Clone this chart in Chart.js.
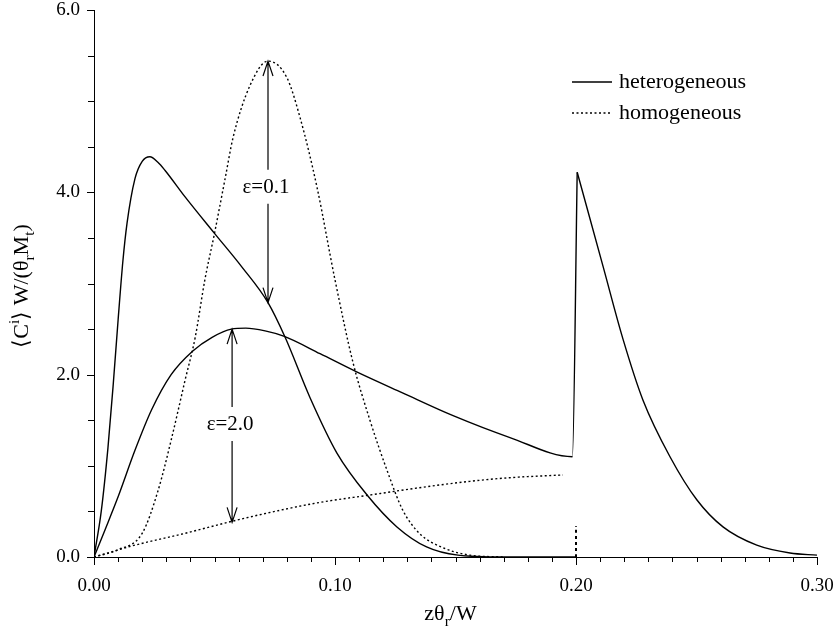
<!DOCTYPE html>
<html>
<head>
<meta charset="utf-8">
<script src="https://cdn.jsdelivr.net/npm/chart.js@4.4.0/dist/chart.umd.min.js"></script>
<style>
  body { margin: 0; background: #fff; }
  canvas { display: block; }
</style>
</head>
<body>
<canvas id="chart" width="840" height="638"></canvas>
<script>
// heterogeneous, eps = 0.1
const het1X = [0, 0.003, 0.0058, 0.008, 0.010, 0.012, 0.0137, 0.017, 0.020, 0.0232, 0.0265, 0.0295, 0.0378, 0.050, 0.0614, 0.0722, 0.0793, 0.0896, 0.1008, 0.1133, 0.1257, 0.138, 0.151, 0.17, 0.20];
const het1Y = [0, 0.5, 1.2, 1.9, 2.6, 3.25, 3.66, 4.15, 4.34, 4.39, 4.33, 4.24, 3.95, 3.55, 3.18, 2.79, 2.41, 1.75, 1.14, 0.68, 0.33, 0.11, 0.02, 0.0, 0.0];
// heterogeneous, eps = 2.0 : up to the jump at z = 0.20
const het2X = [0, 0.0046, 0.010, 0.017, 0.024, 0.032, 0.041, 0.049, 0.057, 0.063, 0.071, 0.079, 0.0938, 0.109, 0.128, 0.149, 0.1726, 0.1985, 0.2005];
const het2Y = [0, 0.30, 0.66, 1.17, 1.62, 2.00, 2.26, 2.41, 2.50, 2.51, 2.48, 2.42, 2.23, 2.03, 1.80, 1.55, 1.31, 1.10, 4.22];
// heterogeneous, eps = 2.0 : decay after the jump
const het2bX = [0.2005, 0.2112, 0.2195, 0.2278, 0.239, 0.2502, 0.261, 0.275, 0.2888, 0.300];
const het2bY = [4.22, 3.19, 2.39, 1.72, 1.10, 0.625, 0.33, 0.13, 0.044, 0.02];
// homogeneous, eps = 0.1
const hom1X = [0, 0.010, 0.020, 0.0266, 0.032, 0.0378, 0.042, 0.046, 0.050, 0.0544, 0.0577, 0.0647, 0.0722, 0.080, 0.0855, 0.0925, 0.100, 0.1075, 0.1145, 0.1216, 0.128, 0.135, 0.145, 0.156, 0.17];
const hom1Y = [0, 0.08, 0.26, 0.73, 1.28, 1.94, 2.41, 3.04, 3.55, 4.15, 4.6, 5.17, 5.44, 5.26, 4.82, 4.06, 3.04, 2.13, 1.50, 0.95, 0.52, 0.26, 0.10, 0.02, 0];
// homogeneous, eps = 2.0
const hom2X = [0, 0.017, 0.0378, 0.057, 0.075, 0.094, 0.1145, 0.135, 0.156, 0.1726, 0.1946];
const hom2Y = [0, 0.13, 0.26, 0.39, 0.50, 0.60, 0.68, 0.76, 0.83, 0.87, 0.90];
// dotted marker at z = 0.20
const markX = [0.20, 0.20];
const markY = [0, 0.34];

const xTicks = ['0.00', '0.10', '0.20', '0.30'];
const yTicks = ['0.0', '2.0', '4.0', '6.0'];

const arrowX = [0.0722, 0.0573];
const arrowTop = [5.44, 2.50];
const arrowBottom = [2.79, 0.38];
const arrowLabelY = [4.06, 1.46];
const arrowLabels = ['\u03b5=0.1', '\u03b5=2.0'];

const legendLabels = ['heterogeneous', 'homogeneous'];

const FONT = '"Liberation Serif", "Times New Roman", serif';

function pts(xs, ys) { return xs.map((x, i) => ({ x: x, y: ys[i] })); }
function isMult(v, step) { const r = v / step; return Math.abs(r - Math.round(r)) < 1e-6; }

function lineDs(xs, ys, dash) {
    return {
        data: pts(xs, ys), borderColor: '#000', borderWidth: 1.4, borderDash: dash,
        pointRadius: 0, fill: false, cubicInterpolationMode: 'monotone'
    };
}

function drawRich(ctx, parts, x, y, size) {
    const w = parts.map(p => {
        ctx.font = (p[1] ? size * 0.7 : size) + 'px ' + FONT;
        return ctx.measureText(p[0]).width;
    });
    let cx = x - w.reduce((a, b) => a + b, 0) / 2;
    parts.forEach((p, i) => {
        ctx.font = (p[1] ? size * 0.7 : size) + 'px ' + FONT;
        const dy = p[1] === 'sup' ? -size * 0.42 : p[1] === 'sub' ? size * 0.25 : 0;
        ctx.fillText(p[0], cx, y + dy);
        cx += w[i];
    });
}

const extras = {
    id: 'extras',
    afterDraw(chart) {
        const ctx = chart.ctx;
        const xs = chart.scales.x, ys = chart.scales.y;
        const area = chart.chartArea;
        ctx.save();
        ctx.strokeStyle = '#000';
        ctx.fillStyle = '#000';
        ctx.lineWidth = 1;
        // tick marks
        xs.ticks.forEach(t => {
            const px = Math.round(xs.getPixelForValue(t.value)) + 0.5;
            const len = isMult(t.value, 0.1) ? 8 : 5;
            ctx.beginPath(); ctx.moveTo(px, area.bottom); ctx.lineTo(px, area.bottom + len); ctx.stroke();
        });
        ys.ticks.forEach(t => {
            const py = Math.round(ys.getPixelForValue(t.value)) + 0.5;
            const len = isMult(t.value, 2) ? 7 : 6;
            ctx.beginPath(); ctx.moveTo(area.left, py); ctx.lineTo(area.left - len, py); ctx.stroke();
        });

        // arrows with labels
        ctx.lineWidth = 1.2;
        arrowX.forEach((v, i) => {
            const px = xs.getPixelForValue(v);
            const top = ys.getPixelForValue(arrowTop[i]);
            const bot = ys.getPixelForValue(arrowBottom[i]);
            const ly = ys.getPixelForValue(arrowLabelY[i]);
            ctx.beginPath();
            ctx.moveTo(px, top); ctx.lineTo(px, ly - 17);
            ctx.moveTo(px, ly + 17); ctx.lineTo(px, bot);
            ctx.moveTo(px - 5, top + 15); ctx.lineTo(px, top); ctx.lineTo(px + 5, top + 15);
            ctx.moveTo(px - 5, bot - 15); ctx.lineTo(px, bot); ctx.lineTo(px + 5, bot - 15);
            ctx.stroke();
            ctx.font = '21px ' + FONT;
            ctx.textAlign = 'center';
            ctx.textBaseline = 'middle';
            ctx.fillText(arrowLabels[i], px - 2, ly + 1);
        });

        // legend
        ctx.textAlign = 'left';
        ctx.textBaseline = 'middle';
        ctx.font = '22px ' + FONT;
        legendLabels.forEach((lab, i) => {
            const y = 82 + i * 31;
            ctx.lineWidth = 1.4;
            ctx.setLineDash(i ? [2, 2.5] : []);
            ctx.beginPath(); ctx.moveTo(572, y); ctx.lineTo(612, y); ctx.stroke();
            ctx.setLineDash([]);
            ctx.fillText(lab, 619, y);
        });

        // axis titles
        ctx.textAlign = 'left';
        ctx.textBaseline = 'alphabetic';
        drawRich(ctx, [['z', ''], ['\u03b8', ''], ['r', 'sub'], ['/W', '']], (area.left + area.right) / 2 - 5, 620, 22);
        ctx.translate(28, 286);
        ctx.rotate(-Math.PI / 2);
        drawRich(ctx, [['\u27e8C', ''], ['i', 'sup'], ['\u27e9 W/(\u03b8', ''], ['r', 'sub'], ['M', ''], ['t', 'sub'], [')', '']], 0, 0, 22);
        ctx.restore();
    }
};

new Chart(document.getElementById('chart').getContext('2d'), {
    type: 'line',
    data: {
        datasets: [
            lineDs(het1X, het1Y, []),
            lineDs(het2X, het2Y, []),
            lineDs(het2bX, het2bY, []),
            lineDs(hom1X, hom1Y, [2, 2.5]),
            lineDs(hom2X, hom2Y, [2, 2.5]),
            Object.assign(lineDs(markX, markY, [3, 3]), { borderWidth: 2 })
        ]
    },
    options: {
        responsive: false,
        animation: false,
        layout: { padding: { left: 0, top: 10, right: 23, bottom: 0 } },
        plugins: { legend: { display: false }, tooltip: { enabled: false } },
        scales: {
            x: {
                type: 'linear', min: 0, max: 0.30,
                grid: { display: false },
                border: { display: true, color: '#000', width: 1 },
                afterFit: s => { s.height = 81; s.paddingLeft = 0; s.paddingRight = 0; },
                ticks: {
                    stepSize: 0.01, autoSkip: false, maxRotation: 0, padding: 10,
                    color: '#000', font: { family: FONT, size: 19 },
                    callback: v => isMult(v, 0.1) ? xTicks[Math.round(v * 10)] : ''
                }
            },
            y: {
                type: 'linear', min: 0, max: 6,
                grid: { display: false },
                border: { display: true, color: '#000', width: 1 },
                afterFit: s => { s.width = 94; s.paddingTop = 0; s.paddingBottom = 0; },
                ticks: {
                    stepSize: 0.5, autoSkip: false, padding: 6,
                    color: '#000', font: { family: FONT, size: 19 },
                    callback: v => isMult(v, 2) ? yTicks[Math.round(v / 2)] : ''
                }
            }
        }
    },
    plugins: [extras]
});
</script>
</body>
</html>
